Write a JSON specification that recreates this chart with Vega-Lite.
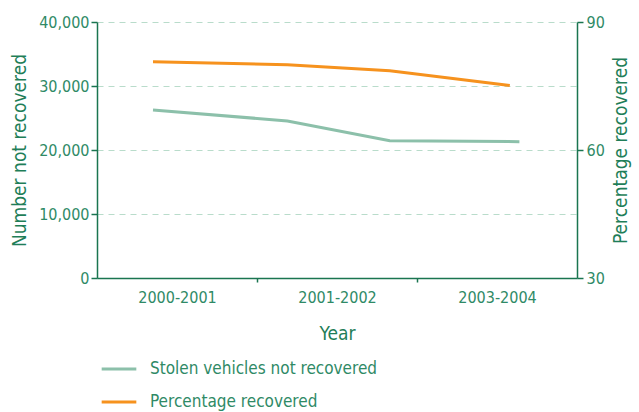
{
  "$schema": "https://vega.github.io/schema/vega-lite/v6.json",
  "width": 480,
  "height": 256,
  "autosize": {"type": "none"},
  "padding": {"left": 97, "top": 22, "right": 62, "bottom": 134},
  "background": "white",
  "config": {
    "view": {"stroke": null},
    "font": "DejaVu Sans Condensed",
    "axis": {
      "labelFont": "DejaVu Sans Condensed",
      "titleFont": "DejaVu Sans Condensed",
      "labelColor": "#2f8a66",
      "titleColor": "#1f7e58",
      "domainColor": "#1a7550",
      "tickColor": "#1a7550",
      "labelFontSize": 16,
      "titleFontSize": 19,
      "titleFontWeight": "normal",
      "domainWidth": 1.5,
      "tickWidth": 1.5
    },
    "legend": {
      "labelFont": "DejaVu Sans Condensed",
      "labelColor": "#2f8a66",
      "labelFontSize": 17,
      "labelLimit": 0
    }
  },
  "datasets": {
    "notrec": [
      {"t": 0.35, "value": 26260, "series": "Stolen vehicles not recovered"},
      {"t": 1.19, "value": 24540, "series": "Stolen vehicles not recovered"},
      {"t": 1.83, "value": 21460, "series": "Stolen vehicles not recovered"},
      {"t": 2.64, "value": 21300, "series": "Stolen vehicles not recovered"}
    ],
    "pct": [
      {"t": 0.35, "value": 80.7, "series": "Percentage recovered"},
      {"t": 1.19, "value": 80.0, "series": "Percentage recovered"},
      {"t": 1.83, "value": 78.6, "series": "Percentage recovered"},
      {"t": 2.58, "value": 75.1, "series": "Percentage recovered"}
    ]
  },
  "layer": [
    {
      "data": {"name": "notrec"},
      "mark": {"type": "line", "strokeWidth": 3},
      "encoding": {
        "x": {
          "field": "t", "type": "quantitative",
          "scale": {"domain": [0, 3], "nice": false, "zero": false},
          "axis": {
            "orient": "bottom",
            "values": [0.5, 1.5, 2.5],
            "labelExpr": "datum.value == 0.5 ? '2000-2001' : datum.value == 1.5 ? '2001-2002' : '2003-2004'",
            "ticks": false,
            "grid": false,
            "domain": true,
            "labelPadding": 11,
            "title": "Year",
            "titlePadding": 19
          }
        },
        "y": {
          "field": "value", "type": "quantitative",
          "scale": {"domain": [0, 40000], "nice": false},
          "axis": {
            "orient": "left",
            "values": [0, 10000, 20000, 30000, 40000],
            "format": ",.0f",
            "tickSize": 6,
            "labelPadding": 2,
            "grid": true,
            "gridColor": "#b9dccb",
            "gridDash": [6, 5],
            "gridWidth": 1,
            "title": "Number not recovered",
            "titlePadding": 9
          }
        },
        "color": {
          "field": "series", "type": "nominal",
          "scale": {
            "domain": ["Stolen vehicles not recovered", "Percentage recovered"],
            "range": ["#8cc0aa", "#f6921e"]
          },
          "legend": {
            "title": null,
            "orient": "none",
            "legendX": 3,
            "legendY": 328,
            "symbolType": "stroke",
            "symbolSize": 1200,
            "symbolStrokeWidth": 3,
            "rowPadding": 6,
            "labelOffset": 12
          }
        }
      }
    },
    {
      "data": {"name": "pct"},
      "mark": {"type": "line", "strokeWidth": 3},
      "encoding": {
        "x": {
          "field": "t", "type": "quantitative",
          "scale": {"domain": [0, 3], "nice": false, "zero": false},
          "axis": {
            "orient": "bottom",
            "values": [1, 2],
            "labels": false,
            "domain": false,
            "grid": false,
            "ticks": true,
            "tickSize": 4,
            "title": null
          }
        },
        "y": {
          "field": "value", "type": "quantitative",
          "scale": {"domain": [30, 90], "nice": false, "zero": false},
          "axis": {
            "orient": "right",
            "values": [30, 60, 90],
            "tickSize": 6,
            "labelPadding": 3,
            "grid": false,
            "title": "Percentage recovered",
            "titleAngle": -90,
            "titleBaseline": "top",
            "titlePadding": 7
          }
        },
        "color": {
          "field": "series", "type": "nominal",
          "scale": {
            "domain": ["Stolen vehicles not recovered", "Percentage recovered"],
            "range": ["#8cc0aa", "#f6921e"]
          }
        }
      }
    }
  ],
  "resolve": {"scale": {"y": "independent"}, "axis": {"x": "independent"}}
}
